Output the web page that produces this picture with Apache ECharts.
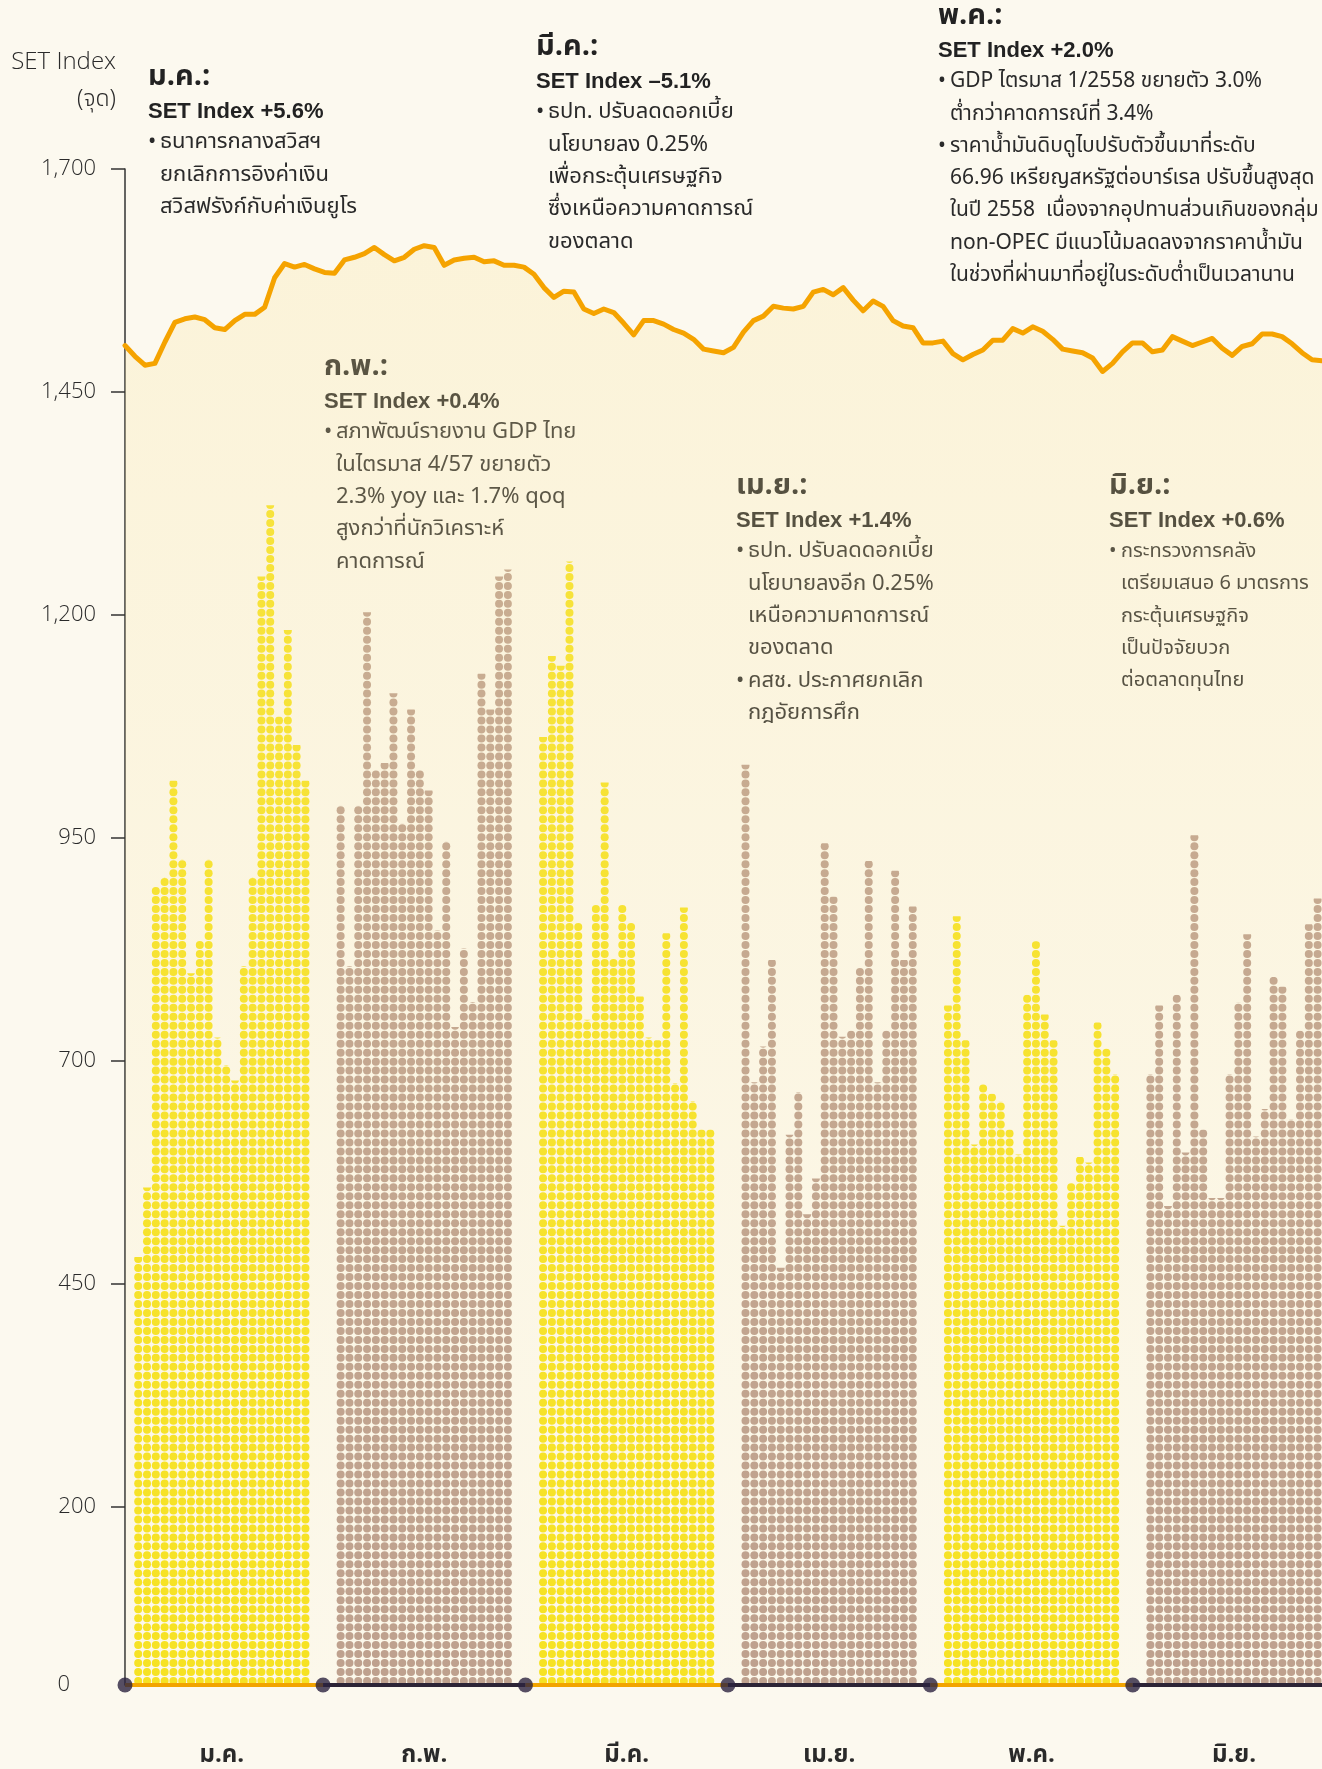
<!DOCTYPE html>
<html>
<head>
<meta charset="UTF-8">
<title>SET Index ม.ค. - มิ.ย.</title>
<script src="https://cdn.jsdelivr.net/npm/echarts@6/dist/echarts.min.js"></script>
<style>
html, body { margin: 0; padding: 0; background: #fcf9ef; overflow: hidden; }
#main { width: 1322px; height: 1769px; }
</style>
</head>
<body>
<div id="main"></div>
<script>
// ข้อมูล
var months = ['ม.ค.', 'ก.พ.', 'มี.ค.', 'เม.ย.', 'พ.ค.', 'มิ.ย.'];
var yTicks = [0, 200, 450, 700, 950, 1200, 1450, 1700];

var janBars = [480, 558, 895, 906, 1014, 926, 798, 835, 926, 726, 695, 678, 806, 906, 1243, 1323, 1086, 1183, 1054, 1014];
var febBars = [986, 806, 986, 1203, 1026, 1034, 1112, 966, 1094, 1026, 1003, 846, 946, 738, 826, 766, 1134, 1094, 1243, 1251];
var marBars = [1063, 1154, 1143, 1260, 855, 746, 875, 1012, 815, 875, 855, 772, 726, 723, 843, 675, 872, 655, 623, 623];
var aprBars = [1032, 676, 716, 813, 468, 617, 665, 528, 568, 944, 884, 727, 734, 805, 924, 676, 734, 913, 813, 873];
var mayBars = [762, 862, 723, 606, 674, 663, 654, 623, 595, 774, 834, 752, 723, 515, 563, 592, 586, 743, 714, 685];
var junBars = [685, 762, 537, 774, 597, 953, 623, 546, 546, 685, 765, 842, 615, 646, 794, 783, 634, 734, 853, 882];

var setIndex = [
  1502, 1490, 1480, 1482, 1506, 1528, 1532, 1534, 1531, 1522,
  1520, 1530, 1537, 1537, 1545, 1578, 1594, 1590, 1593, 1588,
  1584, 1583, 1598, 1601, 1605, 1612, 1604, 1597, 1601, 1610,
  1614, 1612, 1592, 1598, 1600, 1601, 1596, 1597, 1592, 1592,
  1590, 1582, 1567, 1556, 1563, 1562, 1543, 1538, 1543, 1539,
  1527, 1514, 1530, 1530, 1526, 1520, 1516, 1509, 1498, 1496,
  1494, 1500, 1517, 1530, 1535, 1546, 1544, 1543, 1546, 1562,
  1565, 1559, 1567, 1553, 1541, 1552, 1546, 1530, 1524, 1522,
  1505, 1505, 1507, 1493, 1486, 1492, 1497, 1508, 1508, 1521,
  1516, 1523, 1518, 1509, 1498, 1496, 1494, 1488, 1473, 1482,
  1495, 1505, 1505, 1495, 1497, 1512, 1507, 1502, 1506, 1510,
  1499, 1491, 1501, 1504, 1515, 1515, 1512, 1504, 1494, 1486,
  1485
];

var notes = [
  { x: 148, y: 79, size: 22, head: 'ม.ค.:', set: 'SET Index +5.6%',
    lines: [['•', 'ธนาคารกลางสวิสฯ'], ['', 'ยกเลิกการอิงค่าเงิน'], ['', 'สวิสฟรังก์กับค่าเงินยูโร']] },
  { x: 324, y: 369, size: 22, head: 'ก.พ.:', set: 'SET Index +0.4%',
    lines: [['•', 'สภาพัฒน์รายงาน GDP ไทย'], ['', 'ในไตรมาส 4/57 ขยายตัว'], ['', '2.3% yoy และ 1.7% qoq'],
            ['', 'สูงกว่าที่นักวิเคราะห์'], ['', 'คาดการณ์']] },
  { x: 536, y: 49, size: 22, head: 'มี.ค.:', set: 'SET Index –5.1%',
    lines: [['•', 'ธปท. ปรับลดดอกเบี้ย'], ['', 'นโยบายลง 0.25%'], ['', 'เพื่อกระตุ้นเศรษฐกิจ'],
            ['', 'ซึ่งเหนือความคาดการณ์'], ['', 'ของตลาด']] },
  { x: 736, y: 488, size: 22, head: 'เม.ย.:', set: 'SET Index +1.4%',
    lines: [['•', 'ธปท. ปรับลดดอกเบี้ย'], ['', 'นโยบายลงอีก 0.25%'], ['', 'เหนือความคาดการณ์'],
            ['', 'ของตลาด'], ['•', 'คสช. ประกาศยกเลิก'], ['', 'กฎอัยการศึก']] },
  { x: 938, y: 18, size: 21, head: 'พ.ค.:', set: 'SET Index +2.0%',
    lines: [['•', 'GDP ไตรมาส 1/2558 ขยายตัว 3.0%'], ['', 'ต่ำกว่าคาดการณ์ที่ 3.4%'],
            ['•', 'ราคาน้ำมันดิบดูไบปรับตัวขึ้นมาที่ระดับ'], ['', '66.96 เหรียญสหรัฐต่อบาร์เรล ปรับขึ้นสูงสุด'],
            ['', 'ในปี 2558  เนื่องจากอุปทานส่วนเกินของกลุ่ม'], ['', 'non-OPEC มีแนวโน้มลดลงจากราคาน้ำมัน'],
            ['', 'ในช่วงที่ผ่านมาที่อยู่ในระดับต่ำเป็นเวลานาน']] },
  { x: 1109, y: 488, size: 20, head: 'มิ.ย.:', set: 'SET Index +0.6%',
    lines: [['•', 'กระทรวงการคลัง'], ['', 'เตรียมเสนอ 6 มาตรการ'], ['', 'กระตุ้นเศรษฐกิจ'],
            ['', 'เป็นปัจจัยบวก'], ['', 'ต่อตลาดทุนไทย']] }
];

// ช่องแท่ง: เดือนละ 23 ช่อง (แท่ง 20 + ช่องว่าง 3)
var slotsPerMonth = 23;
var totalSlots = 136;
var monthBars = [janBars, febBars, marBars, aprBars, mayBars, junBars];

var slots = [];
var yellowData = [];
var brownData = [];
for (var s = 0; s < totalSlots; s++) {
  slots.push(s);
  yellowData.push('-');
  brownData.push('-');
}
monthBars.forEach(function (arr, m) {
  arr.forEach(function (v, i) {
    var k = 1 + m * slotsPerMonth + i;
    if (k < totalSlots) {
      (m % 2 === 0 ? yellowData : brownData)[k] = v;
    }
  });
});

var linePoints = setIndex.map(function (v, i) {
  return [i * totalSlots / (setIndex.length - 1), v];
});

var bounds = months.map(function (mm, m) { return m === 0 ? 0 : m * slotsPerMonth - 0.5; });
var monthCenters = months.map(function (mm, m) { return 11 + m * slotsPerMonth; });

var baseSeries = months.map(function (mm, m) {
  var end = m < months.length - 1 ? bounds[m + 1] : totalSlots;
  return {
    type: 'line',
    xAxisIndex: 1,
    data: [[bounds[m], 0], [end, 0]],
    showSymbol: false,
    silent: true,
    z: 6,
    lineStyle: { color: m % 2 === 0 ? '#f2a400' : '#2c2436', width: 4 }
  };
});

var thaiFont = '"Noto Sans Thai", "Noto Sans", "DejaVu Sans", sans-serif';
var graphics = [
  { type: 'text', x: 116, y: 62, style: { text: 'SET Index', fill: '#2a2a2a', font: '300 24px "Open Sans", sans-serif', align: 'right', textAlign: 'right', verticalAlign: 'middle', textVerticalAlign: 'middle' } },
  { type: 'text', x: 116, y: 101, style: { text: '(จุด)', fill: '#2a2a2a', font: '300 23px ' + thaiFont, align: 'right', textAlign: 'right', verticalAlign: 'middle', textVerticalAlign: 'middle' } }
];
notes.forEach(function (n) {
  graphics.push({ type: 'text', x: n.x, y: n.y, style: { text: n.head, fill: '#222', font: 'bold 29px ' + thaiFont, verticalAlign: 'middle', textVerticalAlign: 'middle' } });
  graphics.push({ type: 'text', x: n.x, y: n.y + 33, style: { text: n.set, fill: '#222', font: 'bold 22px "Liberation Sans", Arial, sans-serif', verticalAlign: 'middle', textVerticalAlign: 'middle' } });
  n.lines.forEach(function (ln, i) {
    var yy = n.y + 65 + i * 32.3;
    if (ln[0]) {
      graphics.push({ type: 'text', x: n.x, y: yy, style: { text: ln[0], fill: '#2a2a2a', font: n.size + 'px ' + thaiFont, verticalAlign: 'middle', textVerticalAlign: 'middle' } });
    }
    graphics.push({ type: 'text', x: n.x + 12, y: yy, style: { text: ln[1], fill: '#2a2a2a', font: n.size + 'px ' + thaiFont, verticalAlign: 'middle', textVerticalAlign: 'middle' } });
  });
});

var myChart = echarts.init(document.getElementById('main'));

var option = {
  backgroundColor: '#fcf9ef',
  animation: false,
  grid: { left: 125, right: 0, top: 169, bottom: 80, containLabel: false },
  xAxis: [
    { type: 'category', data: slots, show: false, boundaryGap: true },
    {
      type: 'value', min: 0, max: totalSlots, position: 'bottom',
      axisLine: { show: false }, axisTick: { show: false }, splitLine: { show: false },
      axisLabel: {
        customValues: monthCenters,
        margin: 60,
        color: '#2a2a2a',
        fontSize: 24,
        fontWeight: 'bold',
        fontFamily: thaiFont,
        formatter: function (v) { return months[Math.round((v - 11) / slotsPerMonth)] || ''; }
      }
    }
  ],
  yAxis: {
    type: 'value', min: 0, max: 1700,
    axisLine: { show: true, lineStyle: { color: '#333', width: 1.5 } },
    axisTick: { show: true, length: 14, customValues: yTicks.slice(1), lineStyle: { color: '#333', width: 1.5 } },
    splitLine: { show: false },
    axisLabel: {
      customValues: yTicks,
      margin: 29,
      color: '#2a2a2a',
      fontSize: 22,
      fontWeight: 300,
      fontFamily: '"Open Sans", sans-serif',
      formatter: function (v) { return v === 0 ? '{z|0}' : v.toLocaleString('en-US'); },
      rich: { z: { padding: [0, 26, 0, 0], fontSize: 22, fontWeight: 300, color: '#2a2a2a', fontFamily: '"Open Sans", sans-serif' } }
    }
  },
  graphic: graphics,
  series: [
    {
      type: 'pictorialBar', name: 'yellow', xAxisIndex: 0, data: yellowData,
      symbol: 'circle', symbolRepeat: true, symbolSize: [8, 8], symbolMargin: 0.5, symbolClip: true,
      barGap: '-100%', itemStyle: { color: '#f6e21c' }, z: 2
    },
    {
      type: 'pictorialBar', name: 'brown', xAxisIndex: 0, data: brownData,
      symbol: 'circle', symbolRepeat: true, symbolSize: [8, 8], symbolMargin: 0.5, symbolClip: true,
      barGap: '-100%', itemStyle: { color: '#bb9d8d' }, z: 2
    },
    {
      type: 'line', name: 'SET Index', xAxisIndex: 1, data: linePoints,
      showSymbol: false, z: 4,
      lineStyle: { color: '#f5a300', width: 5, join: 'round', cap: 'round' },
      areaStyle: {
        color: new echarts.graphic.LinearGradient(0, 0, 0, 1, [
          { offset: 0, color: 'rgba(249,228,160,0.40)' },
          { offset: 1, color: 'rgba(249,228,160,0.08)' }
        ])
      }
    }
  ].concat(baseSeries).concat([
    {
      type: 'scatter', xAxisIndex: 1, z: 8, silent: true,
      data: bounds.map(function (b) { return [b, 0]; }),
      symbolSize: 15,
      itemStyle: { color: '#2c2340' }
    }
  ])
};

myChart.setOption(option);
</script>
</body>
</html>
